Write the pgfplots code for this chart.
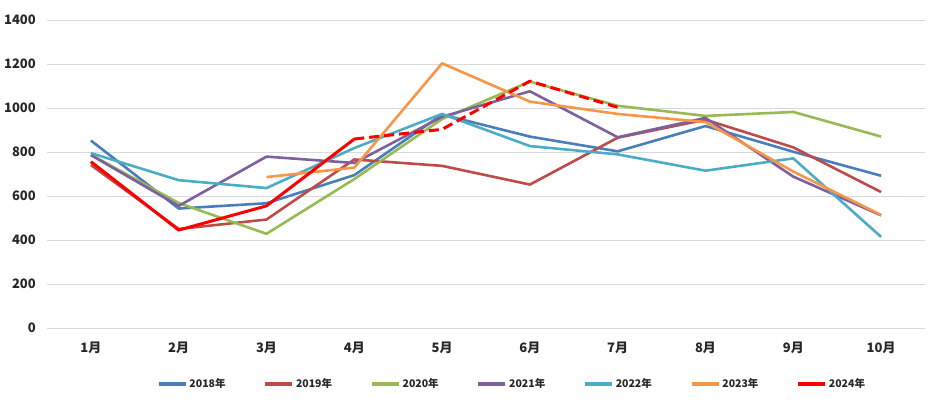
\documentclass[border=0pt]{standalone}
\usepackage{pgfplots}
\pgfplotsset{compat=1.18}
\usepackage{fontspec}
\setmainfont{Noto Sans CJK SC}
\definecolor{c18}{HTML}{4A7EBB}
\definecolor{c19}{HTML}{BE4B48}
\definecolor{c20}{HTML}{98B954}
\definecolor{c21}{HTML}{7D60A0}
\definecolor{c22}{HTML}{4BACC6}
\definecolor{c23}{HTML}{F79646}
\definecolor{c24}{HTML}{FF0000}
\definecolor{gridc}{HTML}{D9D9D9}
\definecolor{txt}{HTML}{262626}
\begin{document}
\begin{tikzpicture}[x=1pt,y=1pt]
\useasboundingbox (-47,-78) rectangle (888,328);
\begin{axis}[
  scale only axis, width=878pt, height=308pt,
  xmin=0.5, xmax=10.5, ymin=0, ymax=1400,
  xtick={1,...,10},
  xticklabels={1月,2月,3月,4月,5月,6月,7月,8月,9月,10月},
  ytick={0,200,...,1400},
  axis line style={draw=none},
  major tick length=0pt,
  ymajorgrids, grid style={gridc, line width=0.9pt},
  /pgf/number format/assume math mode=true,
  /pgf/number format/1000 sep={},
  tick label style={font=\bfseries\fontsize{13}{15}\selectfont, text=txt},
  yticklabel style={anchor=east, inner sep=0pt, xshift=-11pt},
  xticklabel style={anchor=north, inner sep=0pt, yshift=-14pt},
  legend columns=-1,
  legend style={at={(0.5296,-0.1818)}, anchor=center, draw=none, fill=none,
    font=\bfseries\fontsize{10.5}{12}\selectfont, text=txt,
    /tikz/every even column/.append style={column sep=36pt},
    inner sep=0pt},
  legend image code/.code={\draw[#1, line width=3.5pt, solid] (0pt,0pt) -- (27pt,0pt);},
  every axis plot/.append style={line width=2.6pt, line join=round},
]
\addplot[c18, mark=none] coordinates {(1,852)(2,543)(3,567)(4,695)(5,970)(6,870)(7,803)(8,918)(9,801)(10,692)};
\addlegendentry{2018年}
\addplot[c19, mark=none] coordinates {(1,741)(2,450)(3,493)(4,766)(5,737)(6,652)(7,865)(8,947)(9,821)(10,618)};
\addlegendentry{2019年}
\addplot[c20, mark=none] coordinates {(1,788)(2,568)(3,428)(4,677)(5,950)(6,1120)(7,1010)(8,964)(9,982)(10,870)};
\addlegendentry{2020年}
\addplot[c21, mark=none] coordinates {(1,786)(2,555)(3,779)(4,750)(5,960)(6,1076)(7,867)(8,955)(9,688)(10,512)};
\addlegendentry{2021年}
\addplot[c22, mark=none] coordinates {(1,795)(2,672)(3,636)(4,818)(5,973)(6,827)(7,789)(8,715)(9,771)(10,414)};
\addlegendentry{2022年}
\addplot[c23, mark=none] coordinates {(3,686)(4,729)(5,1203)(6,1029)(7,973)(8,936)(9,711)(10,514)};
\addlegendentry{2023年}
\addplot[c24, mark=none, line width=3pt] coordinates {(1,756)(2,445)(3,555)(4,859)};
\addlegendentry{2024年}
\addplot[c24, mark=none, line width=3pt, dash pattern=on 10pt off 5pt, forget plot] coordinates {(4,859)(5,903)(6,1122)(7,1003)};
\end{axis}
\end{tikzpicture}
\end{document}
